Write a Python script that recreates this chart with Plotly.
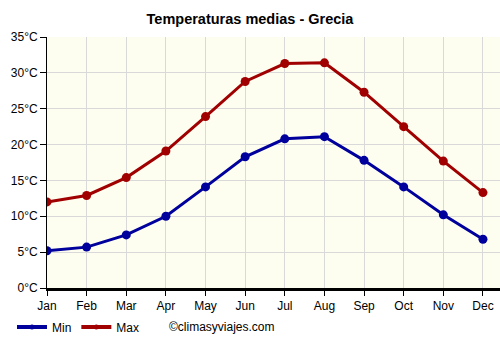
import plotly.graph_objects as go

months = ["Jan", "Feb", "Mar", "Apr", "May", "Jun", "Jul", "Aug", "Sep", "Oct", "Nov", "Dec"]
t_min = [5.2, 5.7, 7.4, 10.0, 14.1, 18.3, 20.8, 21.1, 17.8, 14.1, 10.2, 6.8]
t_max = [12.0, 12.9, 15.4, 19.1, 23.9, 28.8, 31.3, 31.4, 27.3, 22.5, 17.7, 13.3]
y_ticks = [0, 5, 10, 15, 20, 25, 30, 35]
y_labels = [f"{v}°C" for v in y_ticks]
series_names = ["Min", "Max"]
series_colors = ["#00009c", "#a00000"]

FONT = "Liberation Sans, Arial, sans-serif"
idx = list(range(len(months)))

fig = go.Figure()
for name, vals, col in zip(series_names, [t_min, t_max], series_colors):
    fig.add_trace(go.Scatter(x=idx, y=vals, name=name, mode="lines+markers",
                             line=dict(color=col, width=3),
                             marker=dict(size=9, color=col), showlegend=False))
# legend-only entries with small markers
for name, col in zip(series_names, series_colors):
    fig.add_trace(go.Scatter(x=[None], y=[None], name=name, mode="lines+markers",
                             line=dict(color=col, width=4),
                             marker=dict(size=5, color=col), showlegend=True))

fig.update_layout(
    width=500, height=350,
    margin=dict(l=47, r=0, t=37, b=62),
    paper_bgcolor="white",
    plot_bgcolor="#fefef0",
    font=dict(family=FONT, size=12, color="#000"),
    title=dict(text="<b>Temperaturas medias - Grecia</b>", x=0.5, xref="container",
               y=1 - 19/350, yref="container", yanchor="middle",
               font=dict(size=14.5, family=FONT, color="#000")),
    showlegend=True,
    legend=dict(orientation="h", xref="container", yref="container",
                x=12/500, y=1 - 327/350, xanchor="left", yanchor="middle",
                font=dict(size=12, family=FONT), itemwidth=30,
                bgcolor="rgba(0,0,0,0)", tracegroupgap=0),
    annotations=[dict(text="©climasyviajes.com", xref="paper", yref="paper",
                      x=(222-47)/453, y=-(327-288)/251, xanchor="center", yanchor="middle",
                      showarrow=False, font=dict(size=12, family=FONT, color="#000"))],
)
fig.update_xaxes(range=[0, 11.43], tickmode="array", tickvals=idx, ticktext=months,
                 showgrid=True, gridcolor="#d9d9d9", gridwidth=1,
                 showline=True, linecolor="#000", linewidth=3,
                 ticks="outside", ticklen=5, tickcolor="#000",
                 zeroline=False, fixedrange=True)
fig.update_yaxes(range=[0, 35], tickmode="array", tickvals=y_ticks, ticktext=y_labels,
                 showgrid=True, gridcolor="#d9d9d9", gridwidth=1,
                 showline=True, linecolor="#000", linewidth=1,
                 ticks="outside", ticklen=6, tickcolor="#000",
                 zeroline=False, fixedrange=True)

fig.write_html("out.html")
